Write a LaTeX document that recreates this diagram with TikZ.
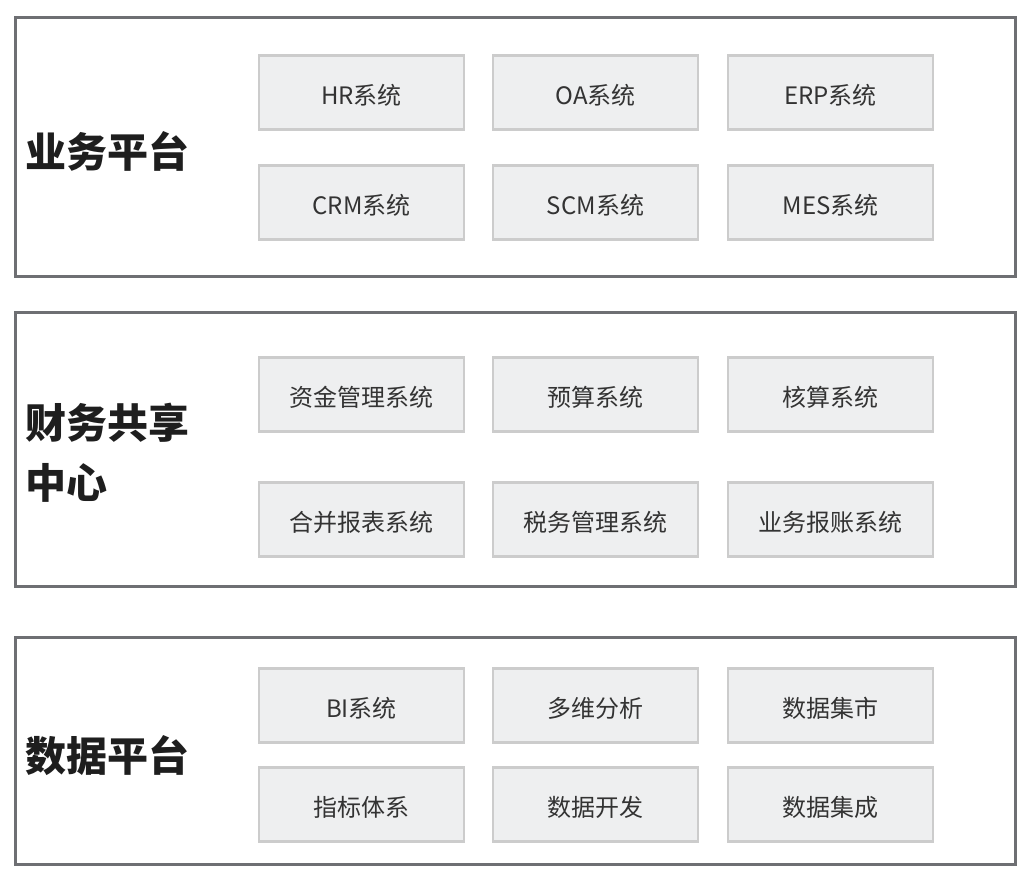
\documentclass[tikz,border=0pt]{standalone}
\usepackage{fontspec}
\setmainfont{Noto Sans CJK SC}
\definecolor{outerc}{HTML}{6E6F73}
\definecolor{innerf}{HTML}{EEEFF0}
\definecolor{innerd}{HTML}{CCCCCC}
\definecolor{txt}{HTML}{333333}
\definecolor{head}{HTML}{1E1E1E}
\begin{document}
\begin{tikzpicture}[x=1pt,y=-1pt,
  panel/.style={draw=outerc,line width=3pt,fill=white},
  sysbox/.style={draw=innerd,fill=innerf,line width=2.5pt,minimum width=205pt,minimum height=74pt,inner sep=0pt,text height=23.5pt,text depth=0pt,font=\fontsize{24}{28}\selectfont,text=txt},
  headlbl/.style={anchor=west,align=left,font=\fontsize{41}{60}\selectfont\bfseries,text=head,inner sep=0pt}]
\useasboundingbox (0,0) rectangle (1028,882);
% panels
\draw[panel] (15,18) rectangle (1015,277);
\draw[panel] (15,313) rectangle (1015,586);
\draw[panel] (15,637) rectangle (1015,864);
% headings
\node[headlbl] (h1) at (25,151) {业务平台};
\node[headlbl] (h2) at (25,453) {财务共享\\中心};
\node[headlbl] (h3) at (25,756) {数据平台};
% panel 1
\node[sysbox] (hr)  at (361.5,92.5) {HR系统};
\node[sysbox] (oa)  at (595.5,92.5) {OA系统};
\node[sysbox] (erp) at (830.5,92.5) {ERP系统};
\node[sysbox] (crm) at (361.5,202.5) {CRM系统};
\node[sysbox] (scm) at (595.5,202.5) {SCM系统};
\node[sysbox] (mes) at (830.5,202.5) {MES系统};
% panel 2
\node[sysbox] (zj) at (361.5,394.5) {资金管理系统};
\node[sysbox] (ys) at (595.5,394.5) {预算系统};
\node[sysbox] (hs) at (830.5,394.5) {核算系统};
\node[sysbox] (hb) at (361.5,519.5) {合并报表系统};
\node[sysbox] (sw) at (595.5,519.5) {税务管理系统};
\node[sysbox] (bz) at (830.5,519.5) {业务报账系统};
% panel 3
\node[sysbox] (bi) at (361.5,705.5) {BI系统};
\node[sysbox] (dw) at (595.5,705.5) {多维分析};
\node[sysbox] (js) at (830.5,705.5) {数据集市};
\node[sysbox] (zb) at (361.5,804.5) {指标体系};
\node[sysbox] (kf) at (595.5,804.5) {数据开发};
\node[sysbox] (jc) at (830.5,804.5) {数据集成};
\end{tikzpicture}
\end{document}
